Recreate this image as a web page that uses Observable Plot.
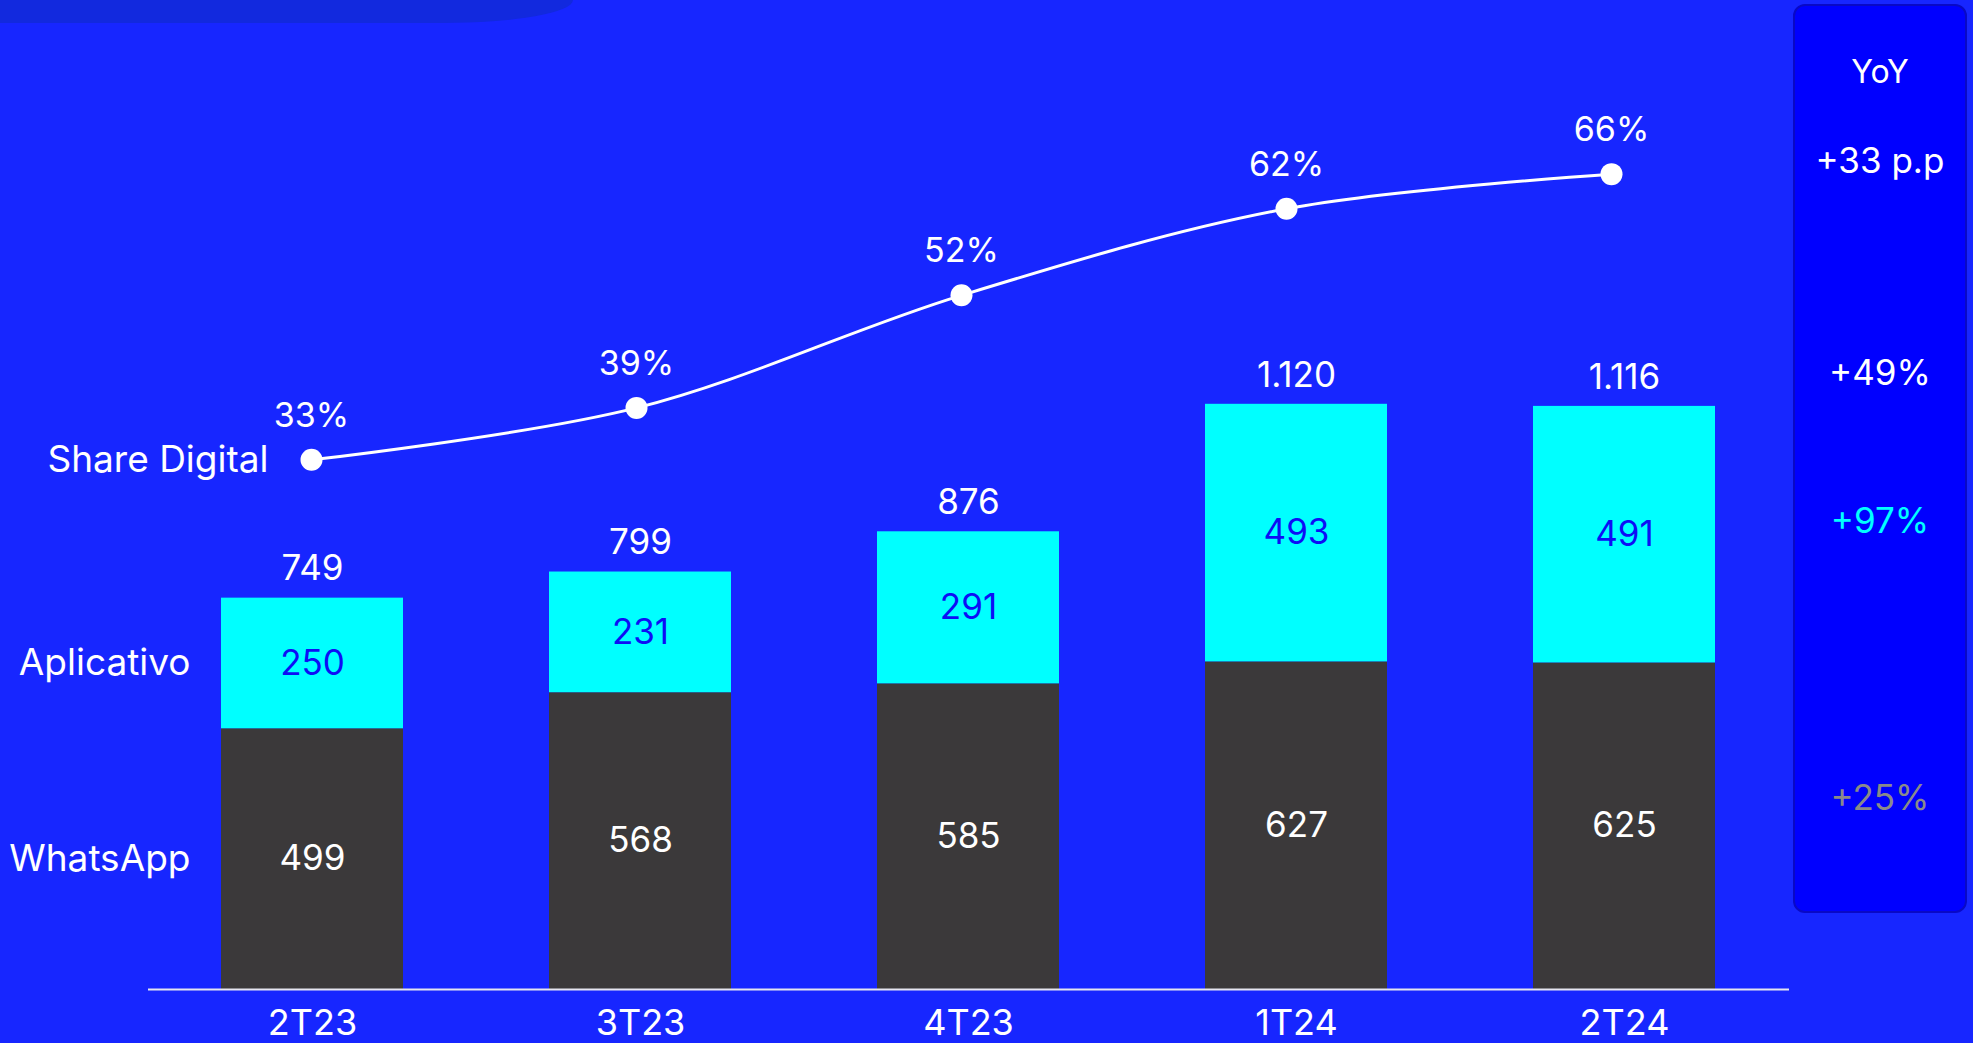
<!DOCTYPE html>
<html><head><meta charset="utf-8">
<script src="https://cdn.jsdelivr.net/npm/d3@7"></script>
<script src="https://cdn.jsdelivr.net/npm/@observablehq/plot@0.6"></script>
<style>
html,body{margin:0;padding:0;background:#1726FF;width:1973px;height:1043px;overflow:hidden;font-family:Inter,sans-serif;}
#wrap{position:relative;width:1973px;height:1043px;}
#band{position:absolute;left:0;top:0;width:573px;height:23px;background:#1229DE;border-bottom-right-radius:130px 23px;}
#wrap svg{position:absolute;left:0;top:0;background:transparent;overflow:visible;}
#panel{position:absolute;left:1793px;top:4px;width:170px;height:905px;background:#0000FF;border:2px solid #0909c6;border-radius:12px;}
.yoy{position:absolute;left:0;width:100%;text-align:center;transform:translateY(-50%);font-family:Inter,sans-serif;font-size:35px;line-height:1;}
</style></head>
<body><div id="wrap"><div id="band"></div><div id="panel"></div></div>
<script>
// ---- data ----
const quarters = ["2T23","3T23","4T23","1T24","2T24"];
const whatsapp = [499,568,585,627,625];
const aplicativo = [250,231,291,493,491];
const shareDigital = [33,39,52,62,66];
const seriesNames = ["WhatsApp","Aplicativo","Share Digital"];
const yoyTitle = "YoY";
const yoyLabels = ["+33 p.p","+49%","+97%","+25%"];

// ---- derived tables ----
const fmt = d3.formatLocale({decimal:",",thousands:".",grouping:[3],currency:["R$",""]}).format(",d");
const stacked = [];
quarters.forEach((q,i)=>{
  stacked.push({q, s:"WhatsApp", v:whatsapp[i], y1:0, y2:whatsapp[i]});
  stacked.push({q, s:"Aplicativo", v:aplicativo[i], y1:whatsapp[i], y2:whatsapp[i]+aplicativo[i]});
});
stacked.forEach(d=>d.mid=(d.y1+d.y2)/2);
const totals = quarters.map((q,i)=>({q, t: whatsapp[i]+aplicativo[i]}));
const shareRows = quarters.map((q,i)=>({q, p: shareDigital[i]}));

const W = 1973, H = 1043;
const style = {background: "transparent", color: "white", fontFamily: "Inter, sans-serif", overflow: "visible"};

const bars = Plot.plot({
  width: W, height: H, marginLeft: 148, marginRight: 184, marginBottom: 54, marginTop: 0, style,
  x: {domain: quarters, paddingInner: 0.445, paddingOuter: 0.2226, axis: null},
  y: {domain: [0, 1500], range: [989, 989 - 1500*0.5225], axis: null},
  color: {domain: ["WhatsApp","Aplicativo"], range: ["#3B393A","#00FFFF"]},
  marks: [
    Plot.barY(stacked, {x: "q", y1: "y1", y2: "y2", fill: "s"}),
    Plot.ruleY([0], {stroke: "#E6E6F0", strokeWidth: 2}),
    Plot.text(stacked.filter(d=>d.s==="WhatsApp"), {x: "q", y: "mid", text: d=>fmt(d.v), fill: "white", fontSize: 35}),
    Plot.text(stacked.filter(d=>d.s==="Aplicativo"), {x: "q", y: "mid", text: d=>fmt(d.v), fill: "#0E0EF5", fontSize: 35}),
    Plot.text(totals, {x: "q", y: "t", text: d=>fmt(d.t), fill: "white", fontSize: 35, dy: -29}),
    Plot.text(stacked.filter(d=>d.q===quarters[0]), {x: "q", y: "mid", text: "s", fill: "white", fontSize: 37, textAnchor: "end", dx: -122}),
    Plot.axisX({domain: quarters, tickSize: 0, tickPadding: 20, fontSize: 36, fill: "white", label: null})
  ]
});

const line = Plot.plot({
  width: W, height: H, marginLeft: 311, marginRight: 362, marginBottom: 54, marginTop: 0, style,
  x: {type: "point", domain: quarters, padding: 0, axis: null},
  y: {domain: [0, 100], range: [745, 745 - 100*8.657], axis: null},
  marks: [
    Plot.line(shareRows, {x: "q", y: "p", curve: "catmull-rom", stroke: "white", strokeWidth: 3}),
    Plot.dot(shareRows, {x: "q", y: "p", r: 11, fill: "white", stroke: "none"}),
    Plot.text(shareRows, {x: "q", y: "p", text: d=>d.p+"%", fill: "white", fontSize: 34, dy: -44}),
    Plot.text(shareRows.slice(0,1), {x: "q", y: "p", text: ()=>seriesNames[2], fill: "white", fontSize: 37, textAnchor: "end", dx: -43})
  ]
});

const wrap = document.getElementById("wrap");
wrap.appendChild(bars);
wrap.appendChild(line);

// YoY panel
const panel = document.getElementById("panel");
const yoyY = [160, 372, 520, 797];
const yoyColors = ["#FFFFFF","#FFFFFF","#00FFFF","#8A8A8A"];
const t = document.createElement("div");
t.className = "yoy"; t.textContent = yoyTitle; t.style.top = (72-6)+"px"; t.style.fontSize = "32px"; t.style.color = "white";
panel.appendChild(t);
yoyLabels.forEach((s,i)=>{
  const d = document.createElement("div");
  d.className = "yoy"; d.textContent = s; d.style.top = (yoyY[i]-6)+"px"; d.style.color = yoyColors[i];
  panel.appendChild(d);
});
</script>
</body></html>
